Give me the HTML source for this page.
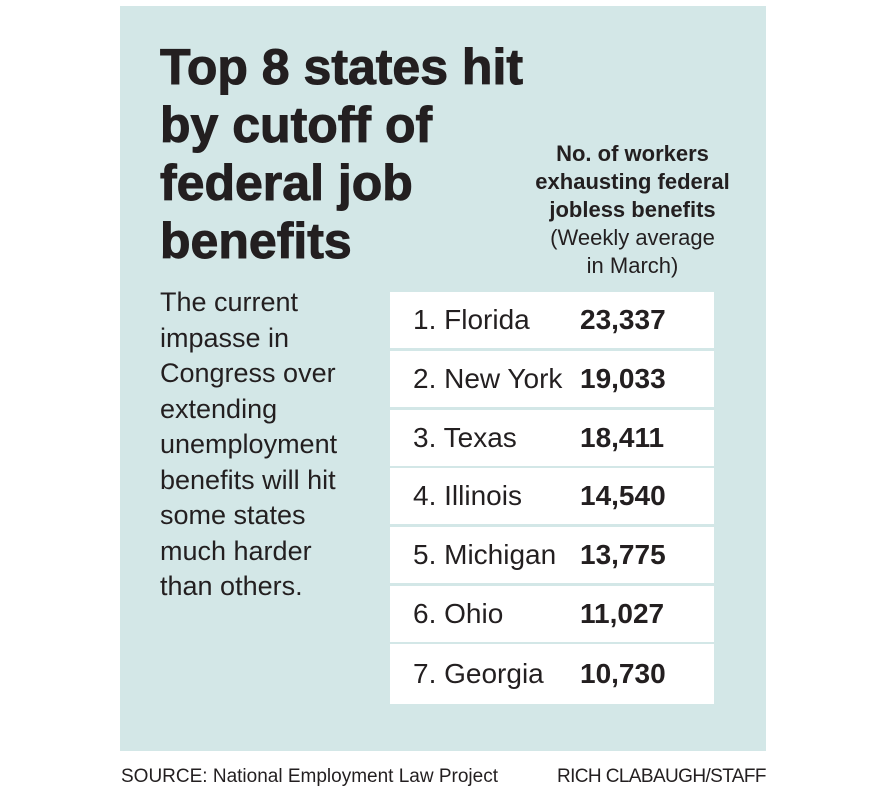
<!DOCTYPE html>
<html><head><style>
body{margin:0;width:896px;height:800px;background:#fff;position:relative;font-family:"Liberation Sans",sans-serif;color:#231f20;overflow:hidden}
.panel{position:absolute;left:120px;top:6px;width:646px;height:745px;background:#d3e7e7}
.title{position:absolute;left:160px;top:38px;font-weight:bold;font-size:50px;line-height:58px;letter-spacing:0px;white-space:nowrap;-webkit-text-stroke:1px #231f20}
.body{position:absolute;left:160px;top:285px;font-size:27px;line-height:35.5px;white-space:nowrap}
.hdr{position:absolute;left:515px;width:235px;top:140px;text-align:center;font-size:22px;line-height:28px}
.row{position:absolute;left:390px;width:324px;height:56px;background:#fff;font-size:28px}
.row span{position:absolute;top:12px}
.row .s{left:23px}
.row .n{left:190px;font-weight:bold;letter-spacing:0px}
.foot{position:absolute;top:766px;font-size:19px}
</style></head><body>
<div class="panel"></div>
<div class="title">Top 8 states hit<br>by cutoff of<br>federal job<br>benefits</div>
<div class="hdr"><b>No. of workers<br>exhausting federal<br>jobless benefits</b><br>(Weekly average<br>in March)</div>
<div class="body">The current<br>impasse in<br>Congress over<br>extending<br>unemployment<br>benefits will hit<br>some states<br>much harder<br>than others.</div>
<div class="row" style="top:292px"><span class="s">1. Florida</span><span class="n">23,337</span></div>
<div class="row" style="top:351px"><span class="s">2. New York</span><span class="n">19,033</span></div>
<div class="row" style="top:410px"><span class="s">3. Texas</span><span class="n">18,411</span></div>
<div class="row" style="top:468px"><span class="s">4. Illinois</span><span class="n">14,540</span></div>
<div class="row" style="top:527px"><span class="s">5. Michigan</span><span class="n">13,775</span></div>
<div class="row" style="top:586px"><span class="s">6. Ohio</span><span class="n">11,027</span></div>
<div class="row" style="top:644px;height:60px"><span class="s" style="top:14px">7. Georgia</span><span class="n" style="top:14px">10,730</span></div>
<div class="foot" style="left:121px">SOURCE: National Employment Law Project</div>
<div class="foot" style="left:557px;letter-spacing:-0.6px">RICH CLABAUGH/STAFF</div>
</body></html>
